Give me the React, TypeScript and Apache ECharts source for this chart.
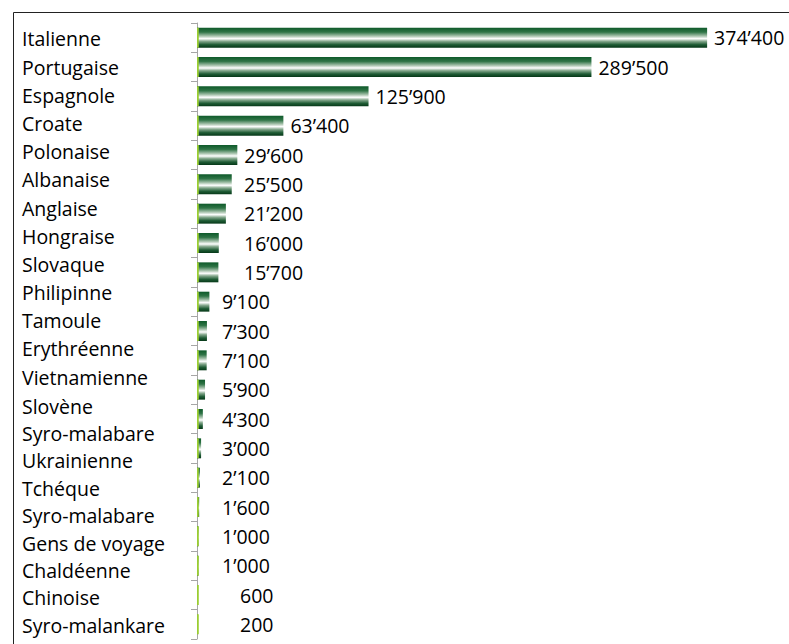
import React, { useEffect, useRef } from "react";
import * as echarts from "echarts";

// Names column (22 entries) as printed on the left of the reference
const namesUpper: string[] = [
  "Italienne", "Portugaise", "Espagnole", "Croate", "Polonaise", "Albanaise",
  "Anglaise", "Hongraise", "Slovaque", "Philipinne", "Tamoule", "Erythréenne",
  "Vietnamienne",
];
const namesLower: string[] = [
  "Slovène", "Syro-malabare", "Ukrainienne", "Tchéque",
  "Syro-malabare", "Gens de voyage", "Chaldéenne", "Chinoise", "Syro-malankare",
];

// Bar values (21 bars)
const values: number[] = [
  374400, 289500, 125900, 63400, 29600, 25500, 21200, 16000, 15700, 9100, 7300,
  7100, 5900, 4300, 3000, 2100, 1600, 1000, 1000, 600, 200,
];

const barSlots: string[] = values.map((_, i) => String(i + 1));

const AXIS_MAX = 400000;
const GRID_LEFT = 197;
const GRID_RIGHT = 47;
const WIDTH = 789;
const HEIGHT = 644;

const fmt = (v: number) => String(v).replace(/\B(?=(\d{3})+(?!\d))/g, "\u2019");

export default function App() {
  const ref = useRef<HTMLDivElement>(null);
  useEffect(() => {
    if (!ref.current) return;
    const chart = echarts.init(ref.current, undefined, { renderer: "svg" });
    const plotW = WIDTH - GRID_LEFT - GRID_RIGHT;
    const font = "'Open Sans', 'Noto Sans', sans-serif";
    const fs = 19.5;
    const barData = values.map((v) => {
      const end = (v / AXIS_MAX) * plotW;
      const minLeft = v >= 40000 ? 0 : v >= 10000 ? 47 : v >= 1000 ? 25 : 43;
      const dist = Math.max(7, minLeft - end);
      return { value: v, label: { distance: dist } };
    });
    const nameAxis = (gridIndex: number, data: string[]) => ({
      type: "category",
      gridIndex,
      data,
      inverse: true,
      position: "left",
      axisLine: { show: false },
      axisTick: { show: false },
      axisLabel: {
        align: "left",
        margin: GRID_LEFT - 22,
        fontSize: fs,
        lineHeight: 20,
        fontFamily: font,
        color: "#000",
      },
    });
    const hiddenX = (gridIndex: number) => ({
      type: "value",
      gridIndex,
      min: 0,
      max: AXIS_MAX,
      show: false,
      splitLine: { show: false },
    });
    chart.setOption({
      animation: false,
      backgroundColor: "#ffffff",
      grid: [
        { left: GRID_LEFT, right: GRID_RIGHT, top: 23, bottom: 5 },
        { left: GRID_LEFT, right: GRID_RIGHT, top: 24.9, height: 366.2 },
        { left: GRID_LEFT, right: GRID_RIGHT, top: 392.3, height: 246.6 },
      ],
      xAxis: [hiddenX(0), hiddenX(1), hiddenX(2)],
      yAxis: [
        {
          type: "category",
          gridIndex: 0,
          data: barSlots,
          inverse: true,
          axisLine: { show: true, lineStyle: { color: "#a6a6a6", width: 1 } },
          axisTick: { show: true, length: 6, lineStyle: { color: "#a6a6a6" } },
          axisLabel: { show: false },
        },
        nameAxis(1, namesUpper),
        nameAxis(2, namesLower),
      ],
      series: [
        {
          type: "bar",
          xAxisIndex: 0,
          yAxisIndex: 0,
          data: barData,
          barCategoryGap: "32%",
          itemStyle: {
            color: new echarts.graphic.LinearGradient(0, 0, 0, 1, [
              { offset: 0, color: "#0e5a2a" },
              { offset: 0.22, color: "#2f7446" },
              { offset: 0.42, color: "#a8c3ad" },
              { offset: 0.55, color: "#ffffff" },
              { offset: 0.68, color: "#86a98e" },
              { offset: 0.85, color: "#1f5c35" },
              { offset: 1, color: "#063818" },
            ]),
          },
          label: {
            show: true,
            position: "right",
            fontSize: fs,
            lineHeight: 20,
            fontFamily: font,
            color: "#000",
            formatter: (p: any) => fmt(p.value),
          },
        },
        {
          type: "bar",
          xAxisIndex: 0,
          yAxisIndex: 0,
          data: values.map(() => 1300),
          barGap: "-100%",
          barCategoryGap: "32%",
          silent: true,
          itemStyle: { color: "#9acd32" },
          z: 3,
        },
      ],
      graphic: [
        {
          type: "rect",
          z: 100,
          silent: true,
          shape: { x: 13.5, y: 12.5, width: 780, height: 640 },
          style: { fill: "transparent", stroke: "#222222", lineWidth: 1 },
        },
      ],
    });
    return () => chart.dispose();
  }, []);
  return (
    <div
      ref={ref}
      style={{ position: "fixed", left: 0, top: 0, width: WIDTH, height: HEIGHT }}
    />
  );
}
